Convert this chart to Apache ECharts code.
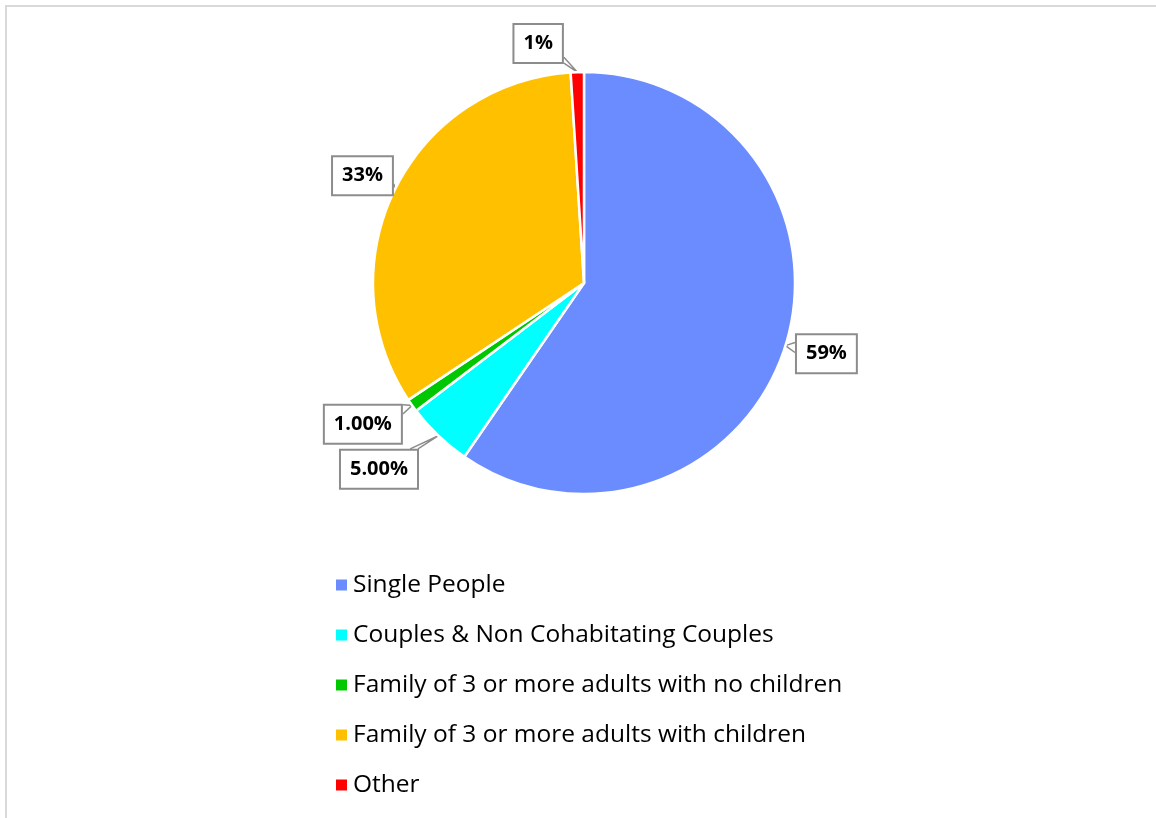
<!DOCTYPE html>
<html><head><meta charset="utf-8">
<script src="https://cdn.jsdelivr.net/npm/echarts@6/dist/echarts.min.js"></script>
<style>html,body{margin:0;padding:0;background:#fff}#c{width:1156px;height:818px}</style>
</head><body><div id="c"></div>
<script>
const categories = ['Single People', 'Couples & Non Cohabitating Couples', 'Family of 3 or more adults with no children', 'Family of 3 or more adults with children', 'Other'];
const values = [59, 5, 1, 33, 1];
const labelTexts = ['59%', '5.00%', '1.00%', '33%', '1%'];
const colors = ['#6B8CFF', '#00FFFF', '#00C800', '#FFC000', '#FF0000'];
// label placement per slice: [radial line length, distance to label line]
const labelPlacement = [[27, -14.3], [46.5, -10.7], [32.7, -15.4], [30.6, -24.4], [28.6, 14.5]];

const chart = echarts.init(document.getElementById('c'), null, {renderer: 'canvas'});

function wedge(p) {
  const pts = p.labelLinePoints;
  if (!pts || !pts.length) return {};
  const tip = pts[0];
  const r = p.labelRect;
  const cx = r.x + r.width / 2, cy = r.y + r.height / 2;
  const dx = tip[0] - cx, dy = tip[1] - cy;
  const tx = dx !== 0 ? (r.width / 2) / Math.abs(dx) : Infinity;
  const ty = dy !== 0 ? (r.height / 2) / Math.abs(dy) : Infinity;
  const t = Math.min(tx, ty);
  const ex = cx + dx * t, ey = cy + dy * t;
  const hw = 5;
  let a, b;
  if (tx <= ty) {
    const y1 = Math.max(r.y + 1, ey - hw), y2 = Math.min(r.y + r.height - 1, ey + hw);
    a = [ex, y1]; b = [ex, y2];
  } else {
    const x1 = Math.max(r.x + 1, ex - hw), x2 = Math.min(r.x + r.width - 1, ex + hw);
    a = [x1, ey]; b = [x2, ey];
  }
  return {labelLinePoints: [a, tip, b]};
}

const data = categories.map((name, i) => ({
  name: name,
  value: values[i],
  itemStyle: {color: colors[i]},
  label: {distanceToLabelLine: labelPlacement[i][1]},
  labelLine: {length: labelPlacement[i][0], length2: 0}
}));

chart.setOption({
  animation: false,
  backgroundColor: '#fff',
  graphic: [{
    type: 'rect', silent: true,
    shape: {x: 6, y: 6, width: 1200, height: 900},
    style: {fill: 'none', stroke: '#d9d9d9', lineWidth: 2}
  }],
  legend: {
    orient: 'vertical', left: 329, top: 566,
    itemWidth: 13, itemHeight: 13, itemGap: 22,
    icon: 'rect',
    textStyle: {fontFamily: 'Open Sans', fontSize: 24.5, lineHeight: 28, color: '#000'},
    data: categories
  },
  series: [{
    type: 'pie',
    center: [584, 283],
    radius: 211,
    startAngle: 90,
    clockwise: true,
    avoidLabelOverlap: false,
    itemStyle: {borderColor: '#fff', borderWidth: 2.5},
    label: {
      show: true, position: 'outside',
      formatter: p => labelTexts[p.dataIndex],
      fontFamily: 'Open Sans', fontWeight: 'bold', fontSize: 20, lineHeight: 29, color: '#000',
      backgroundColor: '#fff', borderColor: '#8c8c8c', borderWidth: 2,
      padding: [4, 9, 4, 9]
    },
    labelLine: {show: true, lineStyle: {color: '#8c8c8c', width: 1.5}},
    labelLayout: wedge,
    emphasis: {disabled: true},
    data: data
  }]
});
</script></body></html>
